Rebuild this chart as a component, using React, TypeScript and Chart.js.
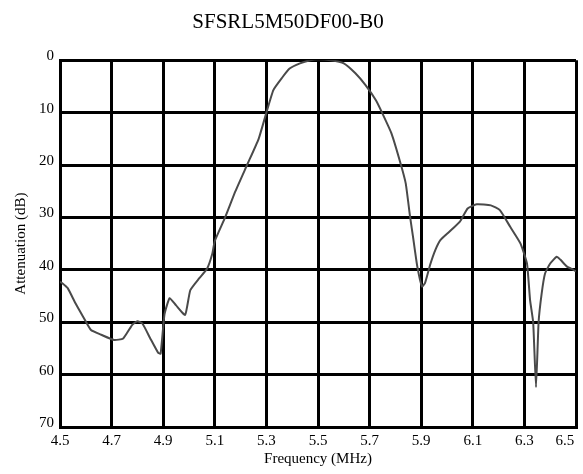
import React, { useEffect, useRef } from "react";
import { Chart, registerables } from "chart.js";

Chart.register(...registerables);

const chartTitle = "SFSRL5M50DF00-B0";
const xAxisTitle = "Frequency (MHz)";
const yAxisTitle = "Attenuation (dB)";

const xTickLabels = ["4.5", "4.7", "4.9", "5.1", "5.3", "5.5", "5.7", "5.9", "6.1", "6.3", "6.5"];
const yTickLabels = ["0", "10", "20", "30", "40", "50", "60", "70"];

const frequencies = [
  4.5, 4.51, 4.53, 4.56, 4.59, 4.62, 4.66, 4.71, 4.745, 4.78, 4.8, 4.82, 4.85, 4.88, 4.89,
  4.905, 4.925, 4.95, 4.985, 5.005, 5.04, 5.07, 5.09, 5.1, 5.14, 5.18, 5.225, 5.27, 5.3,
  5.327, 5.36, 5.39, 5.43, 5.47, 5.5, 5.55, 5.6, 5.645, 5.685, 5.725, 5.75, 5.785, 5.82,
  5.84, 5.857, 5.87, 5.885, 5.903, 5.915, 5.935, 5.955, 5.975, 6.01, 6.05, 6.08, 6.115,
  6.17, 6.205, 6.245, 6.285, 6.31, 6.322, 6.334, 6.345, 6.355, 6.367, 6.38, 6.4, 6.425,
  6.44, 6.465, 6.49, 6.5,
];

const attenuation = [
  42.3, 42.6, 43.5, 46.4, 49.0, 51.5, 52.4, 53.4, 53.1, 50.5, 49.8, 50.3, 53.1, 55.8, 56.0,
  48.5, 45.4, 46.8, 48.6, 43.9, 41.6, 39.8, 37.0, 34.5, 30.0, 25.0, 20.0, 15.0, 10.0,
  5.7, 3.4, 1.6, 0.6, 0.0, -0.2, 0.0, 0.6, 2.5, 4.8, 7.7, 10.2, 14.0, 19.7,
  23.5, 29.9, 34.3, 39.4, 43.2, 42.5, 39.0, 36.2, 34.3, 32.7, 30.8, 28.3, 27.5,
  27.7, 28.6, 31.8, 35.0, 38.8, 45.8, 50.0, 62.4, 50.0, 44.5, 40.7, 38.8, 37.5,
  38.1, 39.4, 40.0, 40.3,
];

const SERIF = "'Liberation Serif', 'Times New Roman', serif";

export default function App() {
  const canvasRef = useRef<HTMLCanvasElement | null>(null);

  useEffect(() => {
    if (!canvasRef.current) return;
    const points = frequencies.map((f, i) => ({ x: f, y: attenuation[i] }));
    const chart = new Chart(canvasRef.current, {
      type: "line",
      data: {
        datasets: [
          {
            data: points,
            borderColor: "#4a4a4a",
            borderWidth: 2,
            pointRadius: 0,
            tension: 0.15,
            fill: false,
          },
        ],
      },
      options: {
        animation: false,
        responsive: false,
        maintainAspectRatio: false,
        layout: { padding: { left: 0, right: 7, top: 0, bottom: 0 } },
        plugins: {
          legend: { display: false },
          tooltip: { enabled: false },
          title: {
            display: true,
            text: chartTitle,
            color: "#000",
            font: { family: SERIF, size: 21, weight: "normal", lineHeight: 1.2 },
            padding: { top: 10, bottom: 25 },
          },
        },
        scales: {
          x: {
            type: "linear",
            min: 4.5,
            max: 6.5,
            ticks: {
              stepSize: 0.2,
              color: "#000",
              padding: 5,
              maxRotation: 0,
              autoSkip: false,
              font: { family: SERIF, size: 15 },
              callback: (v: any) => {
                const i = Math.round((Number(v) - 4.5) / 0.2);
                const lbl = xTickLabels[i] ?? "";
                return i === xTickLabels.length - 1 ? lbl + "      " : lbl;
              },
            },
            grid: { color: "#000", lineWidth: 3, drawTicks: false },
            border: { color: "#000", width: 3 },
            title: {
              display: true,
              text: xAxisTitle,
              color: "#000",
              font: { family: SERIF, size: 15 },
              padding: { top: 0, bottom: 6 },
            },
            afterFit: (scale: any) => {
              scale.height = 47;
              scale.paddingLeft = 0;
              scale.paddingRight = 0;
            },
          },
          y: {
            type: "linear",
            reverse: true,
            min: 0,
            max: 70,
            ticks: {
              stepSize: 10,
              color: "#000",
              padding: 6,
              labelOffset: -4,
              font: { family: SERIF, size: 15 },
              callback: (v: any) => yTickLabels[Math.round(Number(v) / 10)] ?? "",
            },
            grid: { color: "#000", lineWidth: 3, drawTicks: false },
            border: { color: "#000", width: 3 },
            title: {
              display: true,
              text: yAxisTitle,
              color: "#000",
              font: { family: SERIF, size: 15 },
              padding: { top: 12, bottom: 0 },
            },
            afterFit: (scale: any) => {
              scale.width = 60;
              scale.paddingTop = 0;
              scale.paddingBottom = 0;
            },
          },
        },
      },
    });
    return () => chart.destroy();
  }, []);

  return (
    <div style={{ position: "absolute", left: 0, top: 0, width: 583, height: 474, background: "#fff" }}>
      <canvas ref={canvasRef} width={583} height={474} />
    </div>
  );
}
